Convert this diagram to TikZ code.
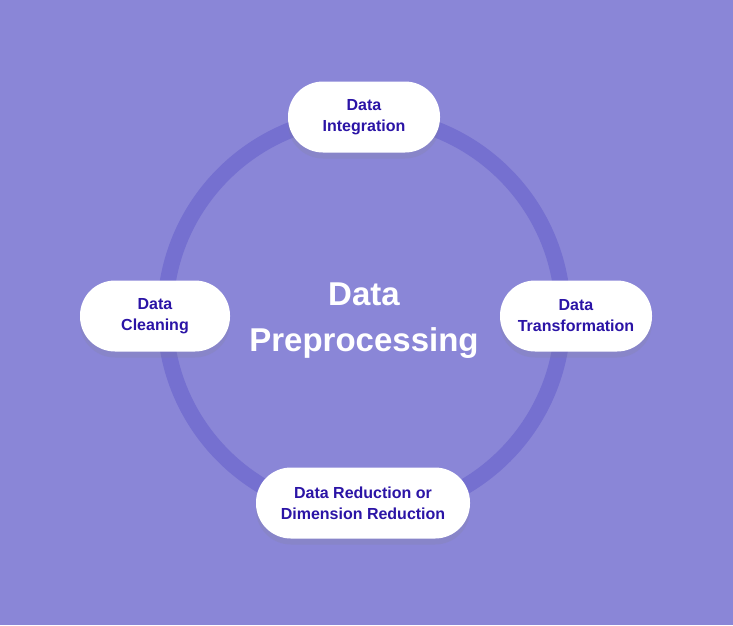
\documentclass[tikz,border=0pt]{standalone}
\usepackage{fontspec}
\setmainfont{Liberation Sans}
\usetikzlibrary{positioning, shadows}
\definecolor{bgpurple}{HTML}{8A86D7}
\definecolor{ringpurple}{HTML}{7570D0}
\definecolor{textblue}{HTML}{2B14A6}

\begin{document}
\begin{tikzpicture}[
  x=1pt, y=-1pt,
  step box/.style={fill=white, rounded corners=35pt, align=center, minimum height=71pt,
    inner sep=2pt, text=textblue, font=\fontsize{16}{21}\selectfont\bfseries,
    drop shadow={opacity=0.16, shadow xshift=0pt, shadow yshift=-6pt}},
  title/.style={align=center, text=white, font=\fontsize{33}{46}\selectfont\bfseries}
]
% background and margins
\fill[bgpurple] (0,0) rectangle (733,625);
\useasboundingbox (0,0) rectangle (733,625);
% ring
\draw[ringpurple, line width=16pt] (364,315) circle[radius=199pt];
% centre title
\node[title] (title) at (364,321) {Data\\Preprocessing};
% process steps
\node[step box, minimum width=152pt] (integ) at (364,117) {Data\\Integration};
\node[step box, minimum width=150pt] (clean) at (155,316) {Data\\Cleaning};
\node[step box, minimum width=152pt] (trans) at (576,316) {Data\\Transformation};
\node[step box, minimum width=214pt] (reduc) at (363,503) {Data Reduction or\\Dimension Reduction};
\end{tikzpicture}
\end{document}
